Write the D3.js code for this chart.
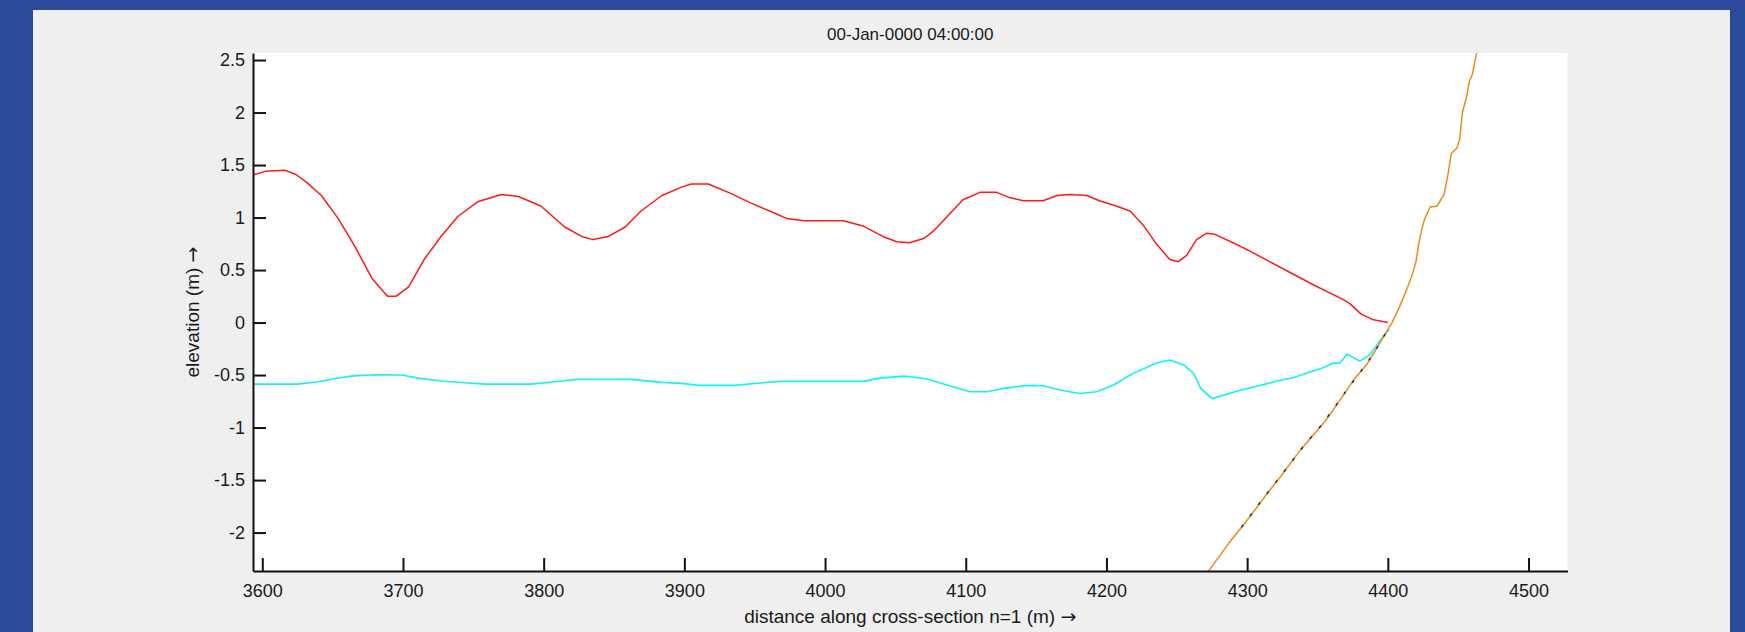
<!DOCTYPE html>
<html>
<head>
<meta charset="utf-8">
<script src="https://cdn.jsdelivr.net/npm/d3@7"></script>
<style>
  html, body { margin: 0; padding: 0; background: #2b4a9b; }
  svg { display: block; }
  text { font-family: Arial, "Liberation Sans", sans-serif; fill: #1a1a1a; }
</style>
</head>
<body>
<div id="Chart"></div>
<script>
// water level (red)
const surfaceX = [3590, 3602, 3616, 3624, 3632, 3642, 3654, 3666, 3678, 3689, 3695, 3704, 3715, 3727, 3739, 3753,
                  3770, 3782, 3798, 3815, 3827, 3835, 3846, 3858, 3869, 3884, 3898, 3905, 3917, 3933, 3947, 3961,
                  3973, 3985, 4013, 4027, 4041, 4051, 4060, 4070, 4077, 4089, 4098, 4110, 4122, 4131, 4141, 4155,
                  4165, 4174, 4186, 4195, 4207, 4217, 4226, 4236, 4245, 4251, 4257, 4264, 4271, 4277, 4290, 4302,
                  4316, 4347, 4368, 4373, 4381, 4389, 4400];
const surfaceZ = [1.39, 1.44, 1.45, 1.41, 1.33, 1.21, 0.99, 0.72, 0.42, 0.25, 0.25, 0.34, 0.60, 0.82, 1.01, 1.15,
                  1.22, 1.20, 1.11, 0.91, 0.82, 0.79, 0.82, 0.91, 1.06, 1.21, 1.29, 1.32, 1.32, 1.23, 1.14, 1.06,
                  0.99, 0.97, 0.97, 0.92, 0.82, 0.77, 0.76, 0.80, 0.87, 1.04, 1.17, 1.24, 1.24, 1.19, 1.16, 1.16,
                  1.21, 1.22, 1.21, 1.16, 1.11, 1.06, 0.93, 0.74, 0.60, 0.58, 0.64, 0.79, 0.85, 0.84, 0.76, 0.68,
                  0.58, 0.36, 0.22, 0.18, 0.08, 0.03, 0.00];

// second level (cyan)
const lowX = [3590, 3625, 3640, 3652, 3663, 3680, 3699, 3711, 3727, 3744, 3758, 3791, 3808, 3824, 3862, 3884,
              3898, 3910, 3936, 3954, 3968, 4027, 4039, 4056, 4072, 4089, 4103, 4115, 4127, 4143, 4155, 4167,
              4181, 4193, 4205, 4219, 4236, 4245, 4255, 4262, 4267, 4275, 4285, 4295, 4309, 4322, 4333, 4354,
              4361, 4366, 4371, 4380, 4387, 4394, 4401];
const lowZ = [-0.586, -0.586, -0.563, -0.532, -0.510, -0.497, -0.500, -0.529, -0.557, -0.573, -0.586, -0.586,
              -0.563, -0.541, -0.541, -0.570, -0.579, -0.598, -0.598, -0.575, -0.560, -0.560, -0.529, -0.510,
              -0.535, -0.605, -0.659, -0.659, -0.627, -0.598, -0.602, -0.643, -0.675, -0.659, -0.595, -0.484,
              -0.383, -0.357, -0.405, -0.484, -0.627, -0.725, -0.684, -0.645, -0.600, -0.554, -0.524, -0.431,
              -0.386, -0.386, -0.300, -0.367, -0.310, -0.179, -0.065];

// bed profile (orange)
const bedX = [4262, 4273, 4287, 4299, 4317, 4323, 4338, 4342, 4356, 4370, 4376, 4385, 4390, 4394, 4403, 4408,
              4413, 4417, 4420, 4422, 4424, 4426, 4430, 4435, 4440, 4443, 4445, 4449, 4451, 4453, 4456, 4458,
              4460, 4463, 4466];
const bedZ = [-2.50, -2.36, -2.10, -1.90, -1.58, -1.48, -1.21, -1.15, -0.93, -0.66, -0.54, -0.40, -0.29, -0.20,
              0.00, 0.14, 0.30, 0.44, 0.58, 0.75, 0.88, 0.98, 1.10, 1.11, 1.22, 1.43, 1.61, 1.66, 1.74, 2.00,
              2.15, 2.30, 2.36, 2.56, 2.75];

// initial bed (black dashes, lying on the orange profile)
const bed0X = [4296, 4310, 4325, 4340, 4352, 4362, 4372, 4380, 4388, 4395, 4401];
const bed0Z = [-1.95, -1.70, -1.44, -1.18, -0.99, -0.81, -0.62, -0.48, -0.33, -0.18, -0.04];

const xTicks = [3600, 3700, 3800, 3900, 4000, 4100, 4200, 4300, 4400, 4500];
const yTicks = [-2, -1.5, -1, -0.5, 0, 0.5, 1, 1.5, 2, 2.5];
const yTickLabels = ["-2", "-1.5", "-1", "-0.5", "0", "0.5", "1", "1.5", "2", "2.5"];

const titleText = "00-Jan-0000 04:00:00";
const xLabelText = "distance along cross-section n=1 (m) ";
const yLabelText = "elevation (m) ";
const arrowText = "\u2192";

const Width = 1745, Height = 632;
const Plot = {left: 253, top: 53, right: 1567.5, bottom: 571};

let Svg = d3.select("#Chart").append("svg").attr("width", Width).attr("height", Height);

// gray figure panel
Svg.append("rect").attr("x", 33).attr("y", 10).attr("width", 1697).attr("height", Height - 10)
    .attr("fill", "#efefef");
Svg.append("rect").attr("x", Plot.left).attr("y", Plot.top)
    .attr("width", Plot.right - Plot.left).attr("height", Plot.bottom - Plot.top).attr("fill", "#ffffff");

let ScaleX = d3.scaleLinear().domain([3593.4, 4527.7]).range([Plot.left, Plot.right]);
let ScaleY = d3.scaleLinear().domain([-2.366, 2.567]).range([Plot.bottom, Plot.top]);

Svg.append("clipPath").attr("id", "PlotClip").append("rect")
    .attr("x", Plot.left).attr("y", Plot.top)
    .attr("width", Plot.right - Plot.left).attr("height", Plot.bottom - Plot.top);

let Lines = Svg.append("g").attr("clip-path", "url(#PlotClip)");
let Line = d3.line().x(pp => ScaleX(pp[0])).y(pp => ScaleY(pp[1]));

function addSeries(xs, zs, colour, width, dash)
{
    let path = Lines.append("path").attr("d", Line(d3.zip(xs, zs)))
        .attr("fill", "none").attr("stroke", colour).attr("stroke-width", width)
        .attr("stroke-linejoin", "round");
    if(dash) { path.attr("stroke-dasharray", dash); }
}

addSeries(surfaceX, surfaceZ, "#ff1a1a", 1.5);
addSeries(lowX, lowZ, "#12f2f2", 1.6);
addSeries(bedX, bedZ, "#ef8a1c", 1.5);
addSeries(bed0X, bed0Z, "#222222", 1.4, "3 11");

// axes, MATLAB style: ticks inward, only left and bottom lines
let AxisX = d3.axisBottom(ScaleX).tickValues(xTicks).tickSizeInner(-13).tickSizeOuter(0)
    .tickPadding(10).tickFormat(d3.format("d"));
let AxisY = d3.axisLeft(ScaleY).tickValues(yTicks).tickSizeInner(-13).tickSizeOuter(0)
    .tickPadding(8).tickFormat((d, i) => yTickLabels[i]);

let GX = Svg.append("g").attr("transform", `translate(0, ${Plot.bottom})`).call(AxisX);
let GY = Svg.append("g").attr("transform", `translate(${Plot.left}, 0)`).call(AxisY);

[GX, GY].forEach(g => {
    g.select(".domain").attr("stroke", "#111").attr("stroke-width", 2);
    g.selectAll(".tick line").attr("stroke", "#111").attr("stroke-width", 2);
    g.selectAll(".tick text").attr("font-size", 18).attr("fill", "#1a1a1a")
        .attr("font-family", "Arial, 'Liberation Sans', sans-serif");
});
GX.selectAll(".tick text").attr("dy", "0.9em");

Svg.append("text").attr("x", (Plot.left + Plot.right) / 2).attr("y", 40)
    .attr("text-anchor", "middle").attr("font-size", 17).text(titleText);

let XLabel = Svg.append("text").attr("x", (Plot.left + Plot.right) / 2).attr("y", 623)
    .attr("text-anchor", "middle").attr("font-size", 19);
XLabel.append("tspan").text(xLabelText);
XLabel.append("tspan").attr("font-family", "'DejaVu Sans', sans-serif").text(arrowText);

let YLabel = Svg.append("text")
    .attr("transform", `translate(199, ${(Plot.top + Plot.bottom) / 2}) rotate(-90)`)
    .attr("text-anchor", "middle").attr("font-size", 19);
YLabel.append("tspan").text(yLabelText);
YLabel.append("tspan").attr("font-family", "'DejaVu Sans', sans-serif").text(arrowText);
</script>
</body>
</html>
